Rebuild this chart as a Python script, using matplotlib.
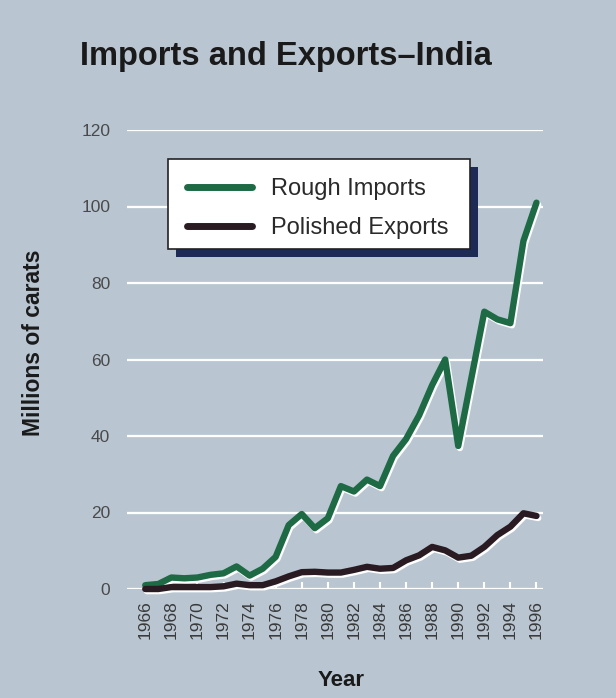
import matplotlib
matplotlib.use("Agg")
import matplotlib.pyplot as plt
import matplotlib.patheffects as pe
from matplotlib.patches import Rectangle
from matplotlib.transforms import IdentityTransform

# data (millions of carats)
years = list(range(1966, 1997))
rough_imports = [1.0, 1.3, 3.0, 2.8, 3.0, 3.7, 4.1, 5.9, 3.5, 5.3, 8.4, 16.7, 19.6, 15.9, 18.5,
                 26.9, 25.5, 28.6, 26.9, 34.8, 39.2, 45.4, 53.3, 60.0, 37.4, 55.0, 72.5, 70.5,
                 69.5, 91.0, 101.0]
polished_exports = [0.0, 0.0, 0.5, 0.5, 0.5, 0.5, 0.7, 1.4, 1.0, 1.0, 2.0, 3.3, 4.4, 4.5, 4.3,
                    4.3, 5.0, 5.8, 5.3, 5.5, 7.5, 8.8, 11.0, 10.1, 8.2, 8.7, 11.0, 14.1, 16.3,
                    19.8, 19.1]
xticks = list(range(1966, 1997, 2))
yticks = list(range(0, 121, 20))

bg = "#b9c6d2"
green = "#1d6a45"
dark = "#2a1b22"
font = "Liberation Sans"

plt.rcParams['font.family'] = [font, 'DejaVu Sans']

fig = plt.figure(figsize=(6.16, 6.98), dpi=100, facecolor=bg)
ax = fig.add_axes([127/616, 1 - 589/698, 416/616, 459/698], facecolor=bg)

ax.set_xlim(1964.6, 1996.5)
ax.set_ylim(0, 120)

# white grid lines
for y in yticks:
    ax.axhline(y, color="white", lw=1.6, zorder=1)

shadow = [pe.SimpleLineShadow(offset=(1.2, -1.5), shadow_color="white", alpha=1.0), pe.Normal()]
ax.plot(years, rough_imports, color=green, lw=4.6, solid_capstyle="round",
        clip_on=False, zorder=3, path_effects=shadow, label="Rough Imports")
ax.plot(years, polished_exports, color=dark, lw=4.6, solid_capstyle="round",
        clip_on=False, zorder=3, path_effects=shadow, label="Polished Exports")

for s in ax.spines.values():
    s.set_visible(False)

ax.set_yticks(yticks)
ax.set_xticks(xticks)
ax.set_xticklabels([str(y) for y in xticks], rotation=90)
ax.tick_params(axis="y", length=0, pad=12, labelsize=12.5, labelcolor="#4a4a4a")
ax.tick_params(axis="x", direction="in", length=5, width=1.5, color="white", pad=8,
               labelsize=12.5, labelcolor="#3a3a3a")

ax.set_xlabel("Year", fontsize=16, fontweight="bold", color="#1a1a1a")
ax.xaxis.set_label_coords((341 - 127) / 416, (589 - 670) / 459)
ax.set_ylabel("Millions of carats", fontsize=16.5, fontweight="bold", color="#1a1a1a")
ax.yaxis.set_label_coords((45 - 127) / 416, (589 - 343) / 459)

fig.text(80/616, 1 - 57/698, "Imports and Exports\u2013India", fontsize=23.5, fontweight="bold",
         color="#1a1a1a", ha="left", va="center")

# legend content without frame; box and shadow drawn around it below
leg = ax.legend(loc="upper left", bbox_to_anchor=((187 - 127) / 416, (589 - 178) / 459),
                fontsize=17, frameon=False, borderpad=0, handlelength=2.75,
                handletextpad=0.8, labelspacing=0.72, borderaxespad=0)
leg.set_zorder(6)
for t in leg.get_texts():
    t.set_color("#2a2a2a")
for h in leg.legend_handles:
    h.set_path_effects([])
    h.set_linewidth(5)

fig.canvas.draw()
bb = leg.get_window_extent()
x0, y0 = bb.x0 - 19, bb.y0 - 10
w, h = 470 - x0, bb.height + 29
ax.add_artist(Rectangle((x0 + 8, y0 - 8), w, h, transform=IdentityTransform(),
                        facecolor="#1e2a56", edgecolor="none", zorder=4.8, clip_on=False))
ax.add_artist(Rectangle((x0, y0), w, h, transform=IdentityTransform(),
                        facecolor="white", edgecolor="#222222", lw=1.2, zorder=4.9, clip_on=False))

fig.savefig("out.png", dpi=100, facecolor=bg)
